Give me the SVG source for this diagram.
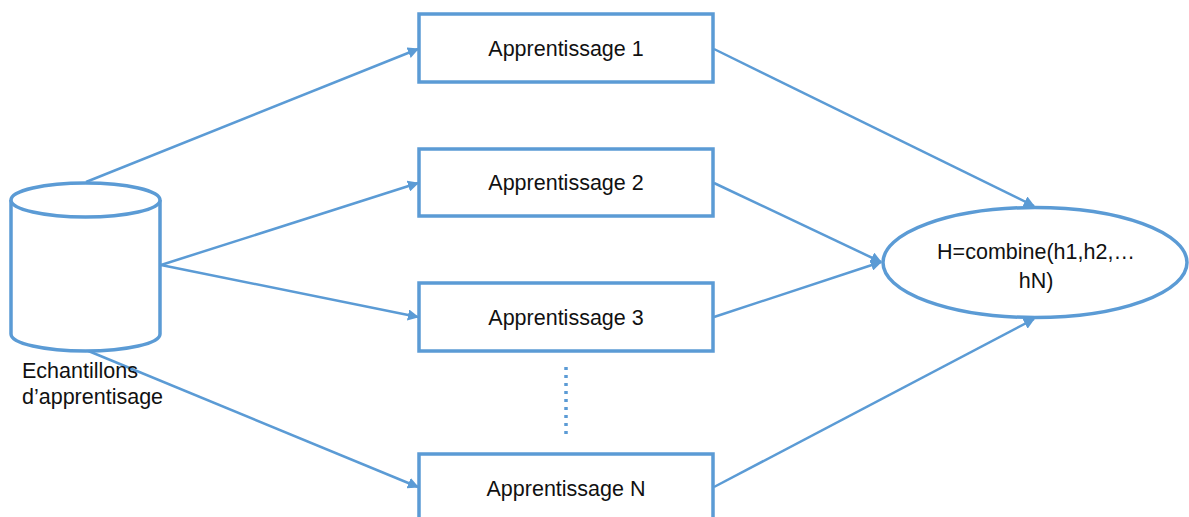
<svg xmlns="http://www.w3.org/2000/svg" width="1189" height="517" viewBox="0 0 1189 517">
  <style>
    .shape { fill: #ffffff; stroke: #5B9BD5; stroke-width: 3.5; }
    .edge { fill: none; stroke: #5B9BD5; stroke-width: 2.5; }
    .label { font-family: "Liberation Sans", Arial, sans-serif; font-size: 21.5px; fill: #111111; }
    .mid { text-anchor: middle; }
  </style>
  <defs>
    <marker id="arrow" viewBox="0 0 10 10" refX="9" refY="5" markerWidth="4.5" markerHeight="4.5" orient="auto" markerUnits="strokeWidth">
      <path d="M0,0 L10,5 L0,10 z" fill="#5B9BD5"/>
    </marker>
  </defs>

  <!-- connectors -->
  <g id="connectors">
    <line class="edge" x1="86" y1="182" x2="418" y2="49" marker-end="url(#arrow)"/>
    <line class="edge" x1="161" y1="265" x2="418" y2="183" marker-end="url(#arrow)"/>
    <line class="edge" x1="161" y1="265" x2="418" y2="317" marker-end="url(#arrow)"/>
    <line class="edge" x1="86" y1="350" x2="418" y2="487" marker-end="url(#arrow)"/>
    <line class="edge" x1="714" y1="49" x2="1034" y2="206" marker-end="url(#arrow)"/>
    <line class="edge" x1="714" y1="183" x2="881" y2="262" marker-end="url(#arrow)"/>
    <line class="edge" x1="714" y1="317" x2="881" y2="262" marker-end="url(#arrow)"/>
    <line class="edge" x1="714" y1="487" x2="1034" y2="319" marker-end="url(#arrow)"/>
    <line x1="566" y1="367" x2="566" y2="434" stroke="#5B9BD5" stroke-width="3.5" stroke-dasharray="3 5"/>
  </g>

  <!-- data store -->
  <g id="samples">
    <path class="shape" d="M11,200 L11,334 A74.5,17 0 0 0 160,334 L160,200"/>
    <ellipse class="shape" cx="85.5" cy="200" rx="74.5" ry="17"/>
    <text class="label" x="22" y="378">Echantillons</text>
    <text class="label" x="22" y="404">d’apprentisage</text>
  </g>

  <g id="learner1">
    <rect class="shape" x="419" y="14" width="294" height="68"/>
    <text class="label mid" x="566" y="56">Apprentissage 1</text>
  </g>
  <g id="learner2">
    <rect class="shape" x="419" y="149" width="294" height="67"/>
    <text class="label mid" x="566" y="190">Apprentissage 2</text>
  </g>
  <g id="learner3">
    <rect class="shape" x="419" y="283" width="294" height="68"/>
    <text class="label mid" x="566" y="325">Apprentissage 3</text>
  </g>
  <g id="learnerN">
    <rect class="shape" x="419" y="454" width="294" height="80"/>
    <text class="label mid" x="566" y="496">Apprentissage N</text>
  </g>

  <g id="combine">
    <ellipse class="shape" cx="1035" cy="262.5" rx="152" ry="55"/>
    <text class="label mid" x="1036" y="259">H=combine(h1,h2,…</text>
    <text class="label mid" x="1036" y="288">hN)</text>
  </g>
</svg>
